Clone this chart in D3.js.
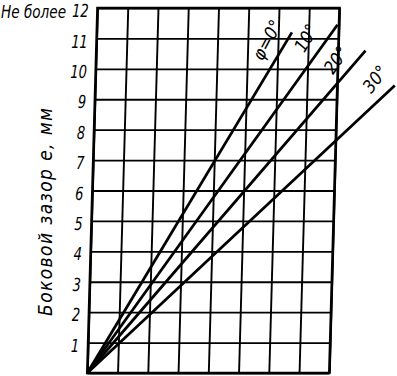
<!DOCTYPE html>
<html>
<head>
<meta charset="utf-8">
<script src="https://cdn.jsdelivr.net/npm/d3@7"></script>
<style>
  body { margin: 0; background: #fff; }
  svg { display: block; }
  text { font-family: "DejaVu Sans Condensed", "Liberation Sans Narrow", "Liberation Sans", sans-serif; font-style: italic; fill: #000; }
</style>
</head>
<body>
<div id="chart"></div>
<script>
// values
const yTicks = [0, 1, 2, 3, 4, 5, 6, 7, 8, 9, 10, 11, 12];
const xTicks = [0, 1, 2, 3, 4, 5, 6, 7, 8];
const phiLabels = ["φ=0°", "10°", "20°", "30°"];
const lineEndX = [6.45, 7.95, 8.9, 9.9];
const lineEndY = [11.2, 11.45, 10.6, 9.45];
const yTitle = "Боковой зазор e, мм";
const topNote = "Не более";

const W = 397, H = 376;
const margin = { left: 97.5, top: 8 };
const w = 242, h = 365;

const svg = d3.select("#chart").append("svg")
    .attr("width", W)
    .attr("height", H);

const x = d3.scaleLinear().domain([0, 8]).range([0, w]);
const y = d3.scaleLinear().domain([0, 12]).range([h, 0]);

// the scanned grid leans a little to the right at the top
const g = svg.append("g")
    .attr("transform", `translate(${margin.left},${margin.top}) skewX(-1.6)`);

// vertical grid
const xAxis = g.append("g")
    .attr("transform", `translate(0,${h})`)
    .call(d3.axisBottom(x).tickValues(xTicks).tickSize(-h).tickFormat(""));

// horizontal grid + labels
const yAxis = g.append("g")
    .call(d3.axisLeft(y).tickValues(yTicks).tickSize(-w).tickPadding(9)
        .tickFormat(d => d === 0 ? "" : d));

[xAxis, yAxis].forEach(a => {
    a.select(".domain").remove();
    a.selectAll(".tick line").attr("stroke", "#000").attr("stroke-width", 1.9);
});
yAxis.selectAll(".tick text")
    .attr("font-size", 18)
    .attr("x", -11)
    .attr("dy", "0.48em")
    .attr("transform", "scale(0.8,1)")
    .style("font-family", null);

// frame
g.append("rect")
    .attr("x", 0).attr("y", 0)
    .attr("width", w).attr("height", h)
    .attr("fill", "none")
    .attr("stroke", "#000")
    .attr("stroke-width", 2.6);

// rays from the origin
const line = d3.line().x(d => x(d[0])).y(d => y(d[1]));
g.selectAll(".ray")
    .data(lineEndX.map((ex, i) => [[0, 0], [ex, lineEndY[i]]]))
    .enter()
    .append("path")
    .attr("class", "ray")
    .attr("d", line)
    .attr("fill", "none")
    .attr("stroke", "#000")
    .attr("stroke-width", 2.8);

// ray labels
const labelPos = [
    { x: 267, y: 40, r: -62 },
    { x: 306, y: 38, r: -60 },
    { x: 336, y: 60, r: -55 },
    { x: 375, y: 79, r: -52 }
];
svg.selectAll(".phi")
    .data(phiLabels)
    .enter()
    .append("text")
    .attr("class", "phi")
    .attr("text-anchor", "middle")
    .attr("dy", "0.35em")
    .attr("font-size", 18)
    .attr("transform", (d, i) => `translate(${labelPos[i].x},${labelPos[i].y}) rotate(${labelPos[i].r})`)
    .text(d => d);

// "Не более" before the 12
svg.append("text")
    .attr("x", 1)
    .attr("y", 18)
    .attr("font-size", 17)
    .attr("textLength", 65)
    .attr("lengthAdjust", "spacingAndGlyphs")
    .text(topNote);

// y title
svg.append("text")
    .attr("transform", "translate(52,212) rotate(-90)")
    .attr("text-anchor", "middle")
    .attr("font-size", 19)
    .attr("textLength", 208)
    .attr("lengthAdjust", "spacing")
    .text(yTitle);
</script>
</body>
</html>
